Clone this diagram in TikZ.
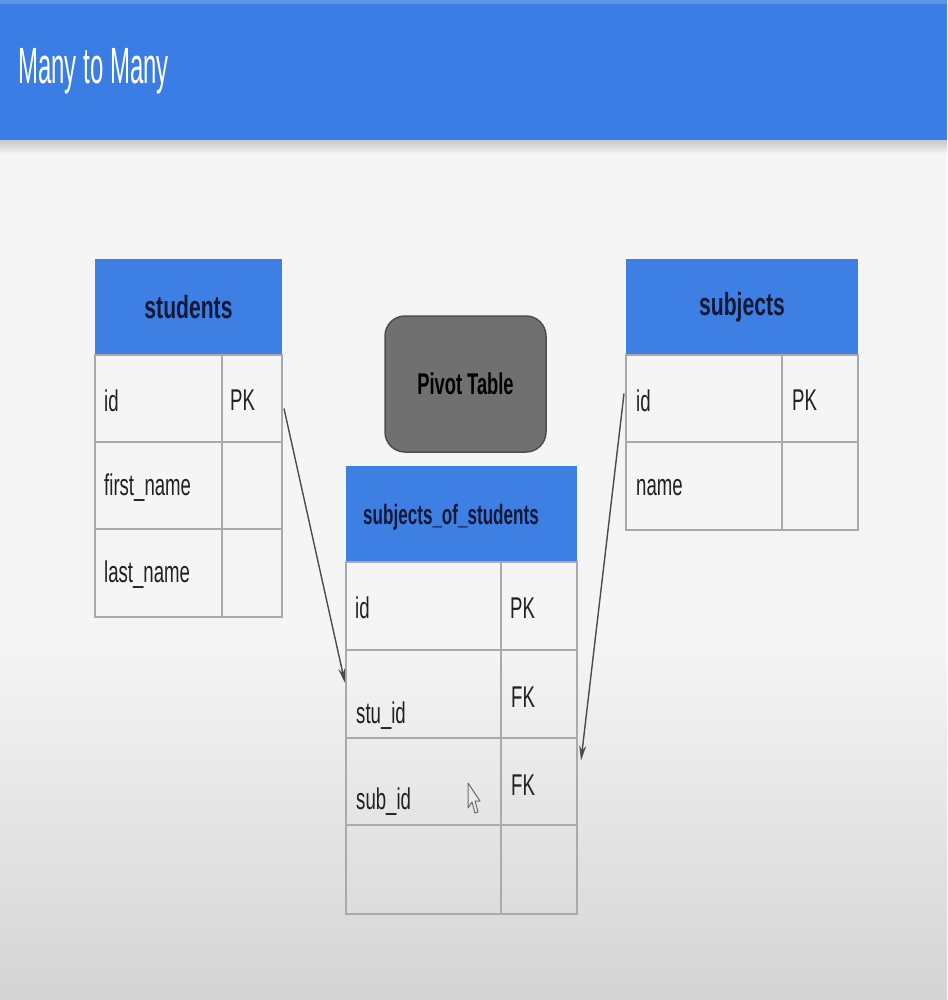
\documentclass[tikz,border=0pt]{standalone}
\usepackage{fontspec}
\setmainfont{Liberation Sans}
\usepackage{graphicx}
\usetikzlibrary{arrows.meta,calc}
\definecolor{hdrblue}{RGB}{58,125,228}
\definecolor{hdrtop}{RGB}{90,150,235}
\definecolor{tblblue}{RGB}{61,127,226}
\definecolor{navy}{RGB}{18,24,56}
\definecolor{celltxt}{RGB}{32,32,32}
\definecolor{gridc}{RGB}{170,170,170}
\definecolor{bgtop}{RGB}{245,245,245}
\definecolor{bgbot}{RGB}{212,212,212}
\definecolor{shadowc}{RGB}{200,200,200}
\definecolor{pivotfill}{RGB}{112,112,112}
\definecolor{pivotdraw}{RGB}{78,78,78}
\definecolor{arrowc}{RGB}{75,75,75}
\definecolor{cursorfill}{RGB}{235,235,235}
\definecolor{cursordraw}{RGB}{110,110,110}
\newcommand\sqz[2]{\scalebox{#1}[1]{#2}}
\begin{document}
\begin{tikzpicture}[x=1pt,y=-1pt,
  cellbox/.style={draw=gridc,line width=2.2pt,rectangle,inner sep=0pt,outer sep=0pt,anchor=north west},
  hdrcell/.style={fill=tblblue,rectangle,inner sep=0pt,outer sep=0pt,anchor=north west,text=navy,
    font=\fontsize{32}{32}\selectfont\bfseries},
  celltext/.style={anchor=west,inner sep=0pt,text=celltxt,font=\fontsize{30}{30}\selectfont},
  conn/.style={draw=arrowc,line width=1.4pt,-{Stealth[length=15pt,width=7pt]}}]
\useasboundingbox (0,0) rectangle (947,1000);
% background
\fill[bgtop] (0,0) rectangle (947,1000);
\shade[top color=bgtop,bottom color=bgbot] (0,640) rectangle (947,1000);
\shade[top color=shadowc,bottom color=bgtop] (0,140) rectangle (947,154);
\fill[hdrblue] (0,0) rectangle (947,140);
\fill[hdrtop] (0,0) rectangle (947,4);
\node[anchor=base west,inner sep=0pt,text=white,font=\fontsize{51}{51}\selectfont] (title) at (18,84) {\sqz{0.47}{Many to Many}};

% students table
\node[hdrcell,minimum width=187,minimum height=96] (stuH) at (95,259) {\sqz{0.66}{students}};
\node[cellbox,minimum width=127,minimum height=87] (stuA1) at (95,355) {};
\node[cellbox,minimum width=60,minimum height=87] (stuB1) at (222,355) {};
\node[cellbox,minimum width=127,minimum height=87] (stuA2) at (95,442) {};
\node[cellbox,minimum width=60,minimum height=87] (stuB2) at (222,442) {};
\node[cellbox,minimum width=127,minimum height=88] (stuA3) at (95,529) {};
\node[cellbox,minimum width=60,minimum height=88] (stuB3) at (222,529) {};
\node[celltext] (stuT1) at ($(stuA1.west)+(9,2)$) {\sqz{0.62}{id}};
\node[celltext] (stuP1) at ($(stuB1.west)+(8,2)$) {\sqz{0.62}{PK}};
\node[celltext] (stuT2) at ($(stuA2.west)+(9,2)$) {\sqz{0.62}{first\_name}};
\node[celltext] (stuT3) at ($(stuA3.west)+(9,2)$) {\sqz{0.62}{last\_name}};

% subjects table
\node[hdrcell,minimum width=232,minimum height=96] (subH) at (626,259) {\sqz{0.66}{subjects}};
\node[cellbox,minimum width=156,minimum height=87] (subA1) at (626,355) {};
\node[cellbox,minimum width=76,minimum height=87] (subB1) at (782,355) {};
\node[cellbox,minimum width=156,minimum height=88] (subA2) at (626,442) {};
\node[cellbox,minimum width=76,minimum height=88] (subB2) at (782,442) {};
\node[celltext] (subT1) at ($(subA1.west)+(10,2)$) {\sqz{0.62}{id}};
\node[celltext] (subP1) at ($(subB1.west)+(10,2)$) {\sqz{0.62}{PK}};
\node[celltext] (subT2) at ($(subA2.west)+(10,2)$) {\sqz{0.62}{name}};

% pivot label
\node[draw=pivotdraw,fill=pivotfill,line width=1.5pt,rounded corners=20pt,anchor=north west,
  minimum width=161,minimum height=136,inner sep=0pt,outer sep=0pt,text=black,
  font=\fontsize{30}{30}\selectfont\bfseries] (pivot) at (385,316) {\sqz{0.61}{Pivot Table}};

% subjects_of_students table
\node[hdrcell,minimum width=231,minimum height=96] (pivH) at (346,466) {};
\node[anchor=west,inner sep=0pt,text=navy,font=\fontsize{28}{28}\selectfont\bfseries] (pivHT) at ($(pivH.west)+(17,3)$) {\sqz{0.61}{subjects\_of\_students}};
\node[cellbox,minimum width=155,minimum height=88] (pivA1) at (346,562) {};
\node[cellbox,minimum width=76,minimum height=88] (pivB1) at (501,562) {};
\node[cellbox,minimum width=155,minimum height=88] (pivA2) at (346,650) {};
\node[cellbox,minimum width=76,minimum height=88] (pivB2) at (501,650) {};
\node[cellbox,minimum width=155,minimum height=87] (pivA3) at (346,738) {};
\node[cellbox,minimum width=76,minimum height=87] (pivB3) at (501,738) {};
\node[cellbox,minimum width=155,minimum height=89] (pivA4) at (346,825) {};
\node[cellbox,minimum width=76,minimum height=89] (pivB4) at (501,825) {};
\node[celltext] (pivT1) at ($(pivA1.west)+(9,2)$) {\sqz{0.62}{id}};
\node[celltext] (pivP1) at ($(pivB1.west)+(9,2)$) {\sqz{0.62}{PK}};
\node[celltext] (pivT2) at ($(pivA2.west)+(10,22)$) {\sqz{0.62}{stu\_id}};
\node[celltext] (pivF2) at ($(pivB2.west)+(10,3)$) {\sqz{0.62}{FK}};
\node[celltext] (pivT3) at ($(pivA3.west)+(10,20)$) {\sqz{0.62}{sub\_id}};
\node[celltext] (pivF3) at ($(pivB3.west)+(10,4)$) {\sqz{0.62}{FK}};

% mouse cursor
\draw[draw=cursordraw,fill=cursorfill,line width=1pt,line join=round]
  (468,783) -- (468,808) -- (472,802) -- (475,813) -- (478,812) -- (475,801) -- (480,801) -- cycle;

% connectors
\coordinate (c1s) at ($(stuB1.east)+(2,10)$);
\coordinate (c1e) at ($(pivA2.west)+(-1,-11)$);
\coordinate (c2s) at ($(subA1.west)+(-2,-5)$);
\coordinate (c2e) at ($(pivB3.east)+(4,-21)$);
\draw[conn] (c1s) -- (c1e);
\draw[conn] (c2s) -- (c2e);
\end{tikzpicture}
\end{document}
